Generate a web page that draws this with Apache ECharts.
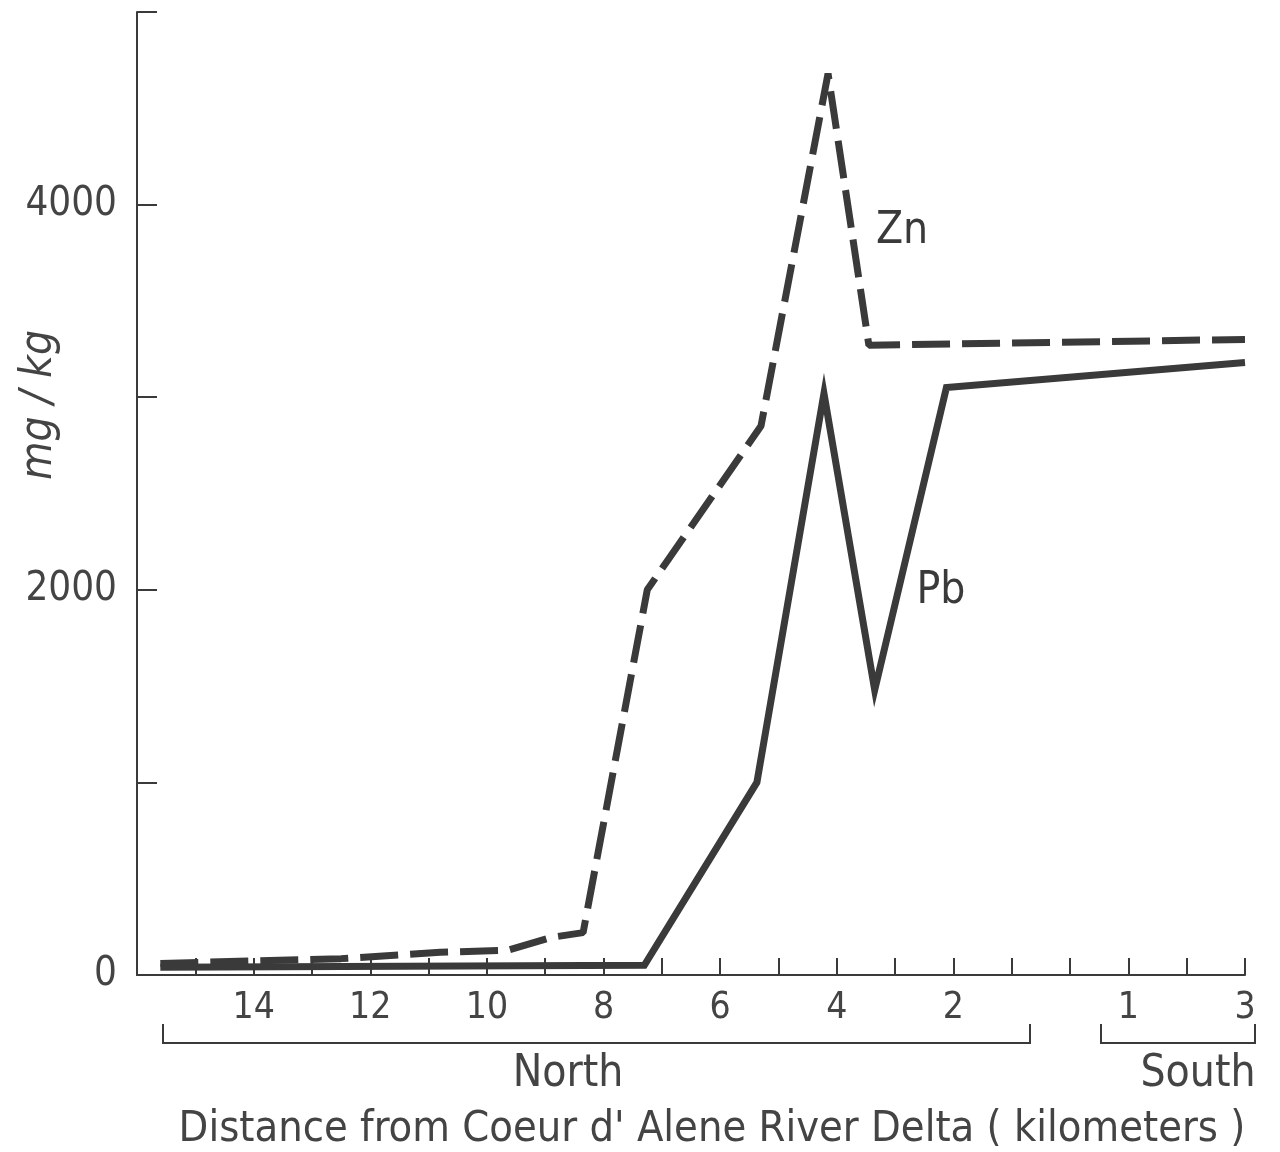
<!DOCTYPE html>
<html>
<head>
<meta charset="utf-8">
<script src="https://cdn.jsdelivr.net/npm/echarts@6/dist/echarts.min.js"></script>
<style>
  html, body { margin: 0; padding: 0; background: #fff; }
  #chart { width: 1280px; height: 1152px; }
</style>
</head>
<body>
<div id="chart"></div>
<script>
  // distance in km: north of the delta positive, south negative
  var zincDist = [15.6, 12.5, 10.8, 9.65, 8.9, 8.35, 7.25, 5.3, 4.15, 3.45, -3]
  var zincVals = [60, 85, 118, 128, 195, 220, 2000, 2850, 4680, 3270, 3300]
  var leadDist = [15.6, 7.3, 5.37, 4.22, 3.35, 2.12, -3]
  var leadVals = [40, 50, 1000, 3020, 1480, 3050, 3180]
  var xTickLabels = {14: '14', 12: '12', 10: '10', 8: '8', 6: '6', 4: '4', 2: '2', '-1': '1', '-3': '3'}
  var yTickLabels = {0: '0', 2000: '2000', 4000: '4000'}

  var ink = '#3a3a3a'
  var textInk = '#444'
  var font = "'DejaVu Sans Condensed', 'Liberation Sans Narrow', Roboto, sans-serif"

  function pairs(xs, ys) {
    return xs.map(function (x, i) { return [x, ys[i]] })
  }

  var myChart = echarts.init(document.getElementById('chart'))

  var option = {
    animation: false,
    backgroundColor: '#fff',
    grid: {
      left: 137,
      right: 35,
      top: 12,
      bottom: 177
    },
    xAxis: {
      type: 'value',
      min: -3,
      max: 16,
      interval: 1,
      inverse: true,
      splitLine: { show: false },
      axisLine: { onZero: false, lineStyle: { color: ink, width: 2 } },
      axisTick: { inside: true, length: 17, lineStyle: { color: ink, width: 2 } },
      axisLabel: {
        margin: 15,
        fontSize: 37,
        fontFamily: font,
        fontWeight: 300,
        color: textInk,
        formatter: function (v) {
          return xTickLabels[v] || ''
        }
      }
    },
    yAxis: {
      type: 'value',
      min: 0,
      max: 5000,
      interval: 1000,
      splitLine: { show: false },
      axisLine: { onZero: false, lineStyle: { color: ink, width: 2 } },
      axisTick: { inside: true, length: 20, lineStyle: { color: ink, width: 2 } },
      axisLabel: {
        margin: 20,
        fontSize: 40,
        fontFamily: font,
        fontWeight: 300,
        color: textInk,
        formatter: function (v) {
          return yTickLabels[v] || ''
        }
      }
    },
    series: [{
      name: 'Zn',
      type: 'line',
      showSymbol: false,
      silent: true,
      data: pairs(zincDist, zincVals),
      lineStyle: { color: ink, width: 7, type: [38, 12], cap: 'butt' }
    }, {
      name: 'Pb',
      type: 'line',
      showSymbol: false,
      silent: true,
      data: pairs(leadDist, leadVals),
      lineStyle: { color: ink, width: 7, join: 'miter' }
    }],
    graphic: [
      // y axis title
      {
        type: 'text', x: 40, y: 405, rotation: Math.PI / 2,
        style: { text: 'mg / kg', fontSize: 44, fontStyle: 'italic', fontWeight: 300, fontFamily: font,
          fill: textInk, align: 'center', verticalAlign: 'middle' }
      },
      // series labels
      {
        type: 'text', x: 902, y: 232,
        style: { text: 'Zn', fontSize: 44, fontFamily: font, fill: ink, align: 'center', verticalAlign: 'middle' }
      },
      {
        type: 'text', x: 941, y: 592,
        style: { text: 'Pb', fontSize: 44, fontFamily: font, fill: ink, align: 'center', verticalAlign: 'middle' }
      },
      // north / south brackets
      {
        type: 'polyline',
        shape: { points: [[163, 1024], [163, 1043], [1030, 1043], [1030, 1024]] },
        style: { stroke: ink, lineWidth: 2, fill: null }
      },
      {
        type: 'polyline',
        shape: { points: [[1101, 1024], [1101, 1043], [1255, 1043], [1255, 1024]] },
        style: { stroke: ink, lineWidth: 2, fill: null }
      },
      {
        type: 'text', x: 568, y: 1075,
        style: { text: 'North', fontSize: 44, fontWeight: 300, fontFamily: font, fill: textInk, align: 'center', verticalAlign: 'middle' }
      },
      {
        type: 'text', x: 1198, y: 1075,
        style: { text: 'South', fontSize: 44, fontWeight: 300, fontFamily: font, fill: textInk, align: 'center', verticalAlign: 'middle' }
      },
      {
        type: 'text', x: 712, y: 1130,
        style: { text: "Distance from Coeur d' Alene River Delta ( kilometers )", fontSize: 43, fontWeight: 300,
          fontFamily: font, fill: textInk, align: 'center', verticalAlign: 'middle' }
      }
    ]
  }

  myChart.setOption(option)
</script>
</body>
</html>
